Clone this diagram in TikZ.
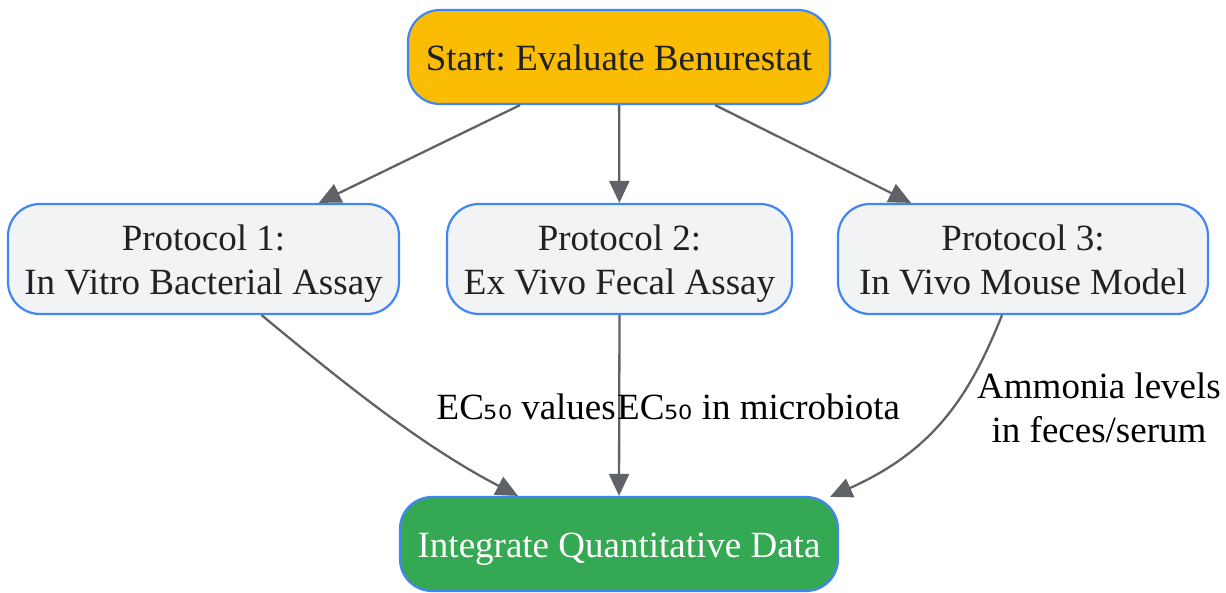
\documentclass[tikz,border=0pt]{standalone}
\usepackage{fontspec}
\setmainfont{Liberation Serif}
\newfontfamily\subfont{DejaVu Sans}
\usetikzlibrary{arrows.meta,calc}
\frenchspacing
\definecolor{edgegray}{HTML}{5F6368}
\definecolor{nodeblue}{HTML}{4285F4}
\definecolor{startfill}{HTML}{FBBC04}
\definecolor{protofill}{HTML}{F1F3F4}
\definecolor{endfill}{HTML}{34A853}
\definecolor{txt}{HTML}{202124}
\newcommand{\ecf}{EC{\subfont\fontsize{35}{35}\selectfont ₅₀}}
\newcommand{\topstrut}{\rule{0pt}{35.5pt}}
\newcommand{\botstrut}{\rule[-9pt]{0pt}{1pt}}
\tikzset{
  box/.style={draw=nodeblue, line width=2.2pt, rounded corners=32pt, align=center,
    inner sep=0pt, font=\fontsize{37}{44}\selectfont, text=txt},
  conn/.style={draw=edgegray, line width=2.3pt, -{Triangle[length=22pt,width=20pt]}},
  lbl/.style={font=\fontsize{37}{44}\selectfont, text=black, inner sep=0pt, align=center}
}
\begin{document}
\begin{tikzpicture}[x=1pt,y=-1pt]
\useasboundingbox (0,0) rectangle (1226,593);
\node[box, fill=startfill, minimum width=422pt, minimum height=94pt] (start) at (619,57) {\topstrut Start: Evaluate Benurestat\botstrut};
\node[box, fill=protofill, minimum width=391pt, minimum height=110pt] (p1) at (203.5,259) {\topstrut Protocol 1:\\In Vitro Bacterial Assay\botstrut};
\node[box, fill=protofill, minimum width=345pt, minimum height=110pt] (p2) at (619.5,259) {\topstrut Protocol 2:\\Ex Vivo Fecal Assay\botstrut};
\node[box, fill=protofill, minimum width=370pt, minimum height=110pt] (p3) at (1023,259) {\topstrut Protocol 3:\\In Vivo Mouse Model\botstrut};
\node[box, fill=endfill, text=white, minimum width=438pt, minimum height=94pt] (integ) at (619,544) {\topstrut Integrate Quantitative Data\botstrut};

\draw[conn] (start) -- (p1);
\draw[conn] (start) -- (p2);
\draw[conn] (start) -- (p3);

\draw[conn] ([xshift=58pt]p1.south) .. controls (340,380) and (420,445) .. ([xshift=-101pt]integ.north);
\draw[conn] (p2.south) -- (integ.north);
\draw[conn] ([xshift=-21pt]p3.south) .. controls (970,395) and (935,450) .. ([xshift=-9pt,yshift=-1pt]integ.north east);

\node[lbl, anchor=east] (l1) at (616,407) {\ecf\ values};
\node[lbl, anchor=west] (l2) at (617,407) {\ecf\ in microbiota};
\node[lbl] (l3) at (1099,408) {Ammonia levels\\in feces/serum};
\end{tikzpicture}
\end{document}
